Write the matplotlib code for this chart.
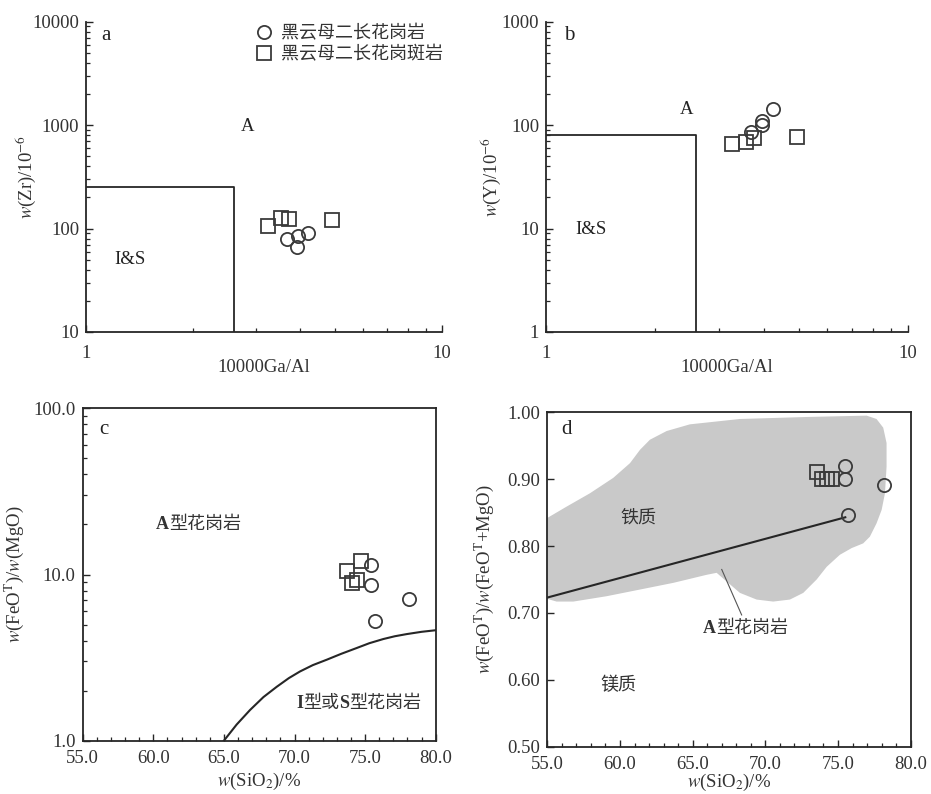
import matplotlib
matplotlib.use('Agg')
import matplotlib.pyplot as plt
from matplotlib.ticker import LogLocator, FixedLocator, MultipleLocator, NullFormatter

plt.rcParams['font.family'] = ['Liberation Serif', 'Noto Sans CJK SC']
plt.rcParams['mathtext.fontset'] = 'stix'
plt.rcParams['axes.unicode_minus'] = False

# ---------------- data ----------------
legend_labels = ['黑云母二长花岗岩', '黑云母二长花岗斑岩']

# panel a : 10000Ga/Al vs Zr
gaal_bt_a = [3.67, 3.93, 3.92, 4.20]
zr_bt = [80, 84, 66, 91]
gaal_por_a = [3.24, 3.53, 3.72, 4.90]
zr_por = [106, 127, 123, 122]
zr_box_x = [1, 2.6, 2.6]
zr_box_y = [250, 250, 10]

# panel b : 10000Ga/Al vs Y
gaal_bt_b = [3.68, 3.95, 3.95, 4.24]
y_bt = [86.5, 100, 109, 142]
gaal_por_b = [3.26, 3.57, 3.75, 4.94]
y_por = [65.5, 69, 75.7, 76.6]
y_box_x = [1, 2.6, 2.6]
y_box_y = [80, 80, 1]

# panel c : SiO2 vs FeOT/MgO
sio2_bt_c = [75.42, 75.42, 78.09, 75.72]
femg_bt = [11.4, 8.59, 7.11, 5.26]
sio2_por_c = [73.70, 74.71, 74.40, 74.05]
femg_por = [10.5, 12.1, 9.29, 8.87]
curve_sio2 = [65.0, 65.9, 66.85, 67.8, 68.74, 69.6, 70.39, 71.3, 72.28, 73.3, 74.40, 75.3, 76.29, 77.1, 77.95, 79.0, 80.0]
curve_ratio = [1.0, 1.25, 1.53, 1.83, 2.11, 2.38, 2.61, 2.85, 3.07, 3.33, 3.61, 3.86, 4.09, 4.25, 4.38, 4.52, 4.62]

# panel d : SiO2 vs FeOT/(FeOT+MgO)
sio2_bt_d = [75.47, 75.47, 78.18, 75.70]
fenum_bt = [0.919, 0.900, 0.892, 0.846]
sio2_por_d = [73.57, 73.87, 74.26, 74.56]
fenum_por = [0.910, 0.900, 0.900, 0.900]
ferroan_sio2 = [55.0, 75.5]
ferroan_ratio = [0.723, 0.843]
field_sio2 = [55.0, 56.33, 57.94, 59.54, 60.69, 61.38, 62.06, 63.21, 64.81, 68.25, 72.84,
              76.97, 77.65, 78.11, 78.34, 78.34, 78.23, 78.0, 77.65, 77.19, 76.73, 75.94,
              75.13, 74.22, 73.53, 72.61, 71.69, 70.54, 69.40, 68.25, 67.34, 66.65, 65.96,
              63.67, 61.38, 59.08, 56.79, 55.64, 55.0]
field_ratio = [0.842, 0.859, 0.879, 0.902, 0.924, 0.944, 0.959, 0.972, 0.982, 0.990, 0.993,
               0.995, 0.990, 0.977, 0.954, 0.919, 0.879, 0.854, 0.834, 0.814, 0.804, 0.797,
               0.787, 0.769, 0.750, 0.730, 0.720, 0.717, 0.720, 0.730, 0.747, 0.760, 0.757,
               0.745, 0.735, 0.725, 0.717, 0.717, 0.721]
pointer_sio2 = [67.0, 68.37]
pointer_ratio = [0.765, 0.697]

# ---------------- figure ----------------
W, H = 931, 794
fig = plt.figure(figsize=(W / 100, H / 100), dpi=100)

def ax_px(l, t, r, b):
    return fig.add_axes([l / W, 1 - b / H, (r - l) / W, (b - t) / H])

ax_a = ax_px(86, 21.7, 442, 332)
ax_b = ax_px(546, 21.7, 907.7, 332)
ax_c = ax_px(82.7, 408.3, 435.7, 740.7)
ax_d = ax_px(547.3, 412.3, 910.7, 746.7)

LC = '#262626'
MC = '#3a3a3a'
TC = '#333333'
FS = 13.5
CFS = 13
mk = dict(linestyle='none', mfc='none', mec=MC, mew=1.3, ms=9.5)


def style_ticks(ax):
    ax.tick_params(which='both', direction='in', colors=LC, labelcolor=TC,
                   labelsize=FS, top=False, right=False)
    ax.tick_params(which='major', length=5, width=1.0, pad=5)
    ax.tick_params(which='minor', length=3, width=0.9)
    for s in ax.spines.values():
        s.set_color(LC)
        s.set_linewidth(1.3)


def rich_text(ax, x, y, pieces, fs=CFS, z=5):
    """pieces: list of (string, weight); drawn left to right starting at (x, y)."""
    s, w = pieces[0]
    t = ax.text(x, y, s, fontsize=fs, fontweight=w, color=TC, ha='left', va='center', zorder=z)
    for s, w in pieces[1:]:
        t = ax.annotate(s, xy=(1, 0), xycoords=t, fontsize=fs, fontweight=w, color=TC,
                        ha='left', va='bottom', zorder=z)
    return t


# panel a / b
for ax, xb, yb, ylim, xs_bt, ys_bt, xs_p, ys_p, ylab, ylx, letter, Apos, ISpos, lpos in [
    (ax_a, zr_box_x, zr_box_y, (10, 10000), gaal_bt_a, zr_bt, gaal_por_a, zr_por,
     r'$w$(Zr)/10$^{-6}$', -0.135, 'a', (2.84, 977), (1.33, 50.4), (1.14, 7400)),
    (ax_b, y_box_x, y_box_y, (1, 1000), gaal_bt_b, y_bt, gaal_por_b, y_por,
     r'$w$(Y)/10$^{-6}$', -0.118, 'b', (2.44, 142), (1.33, 9.8), (1.16, 741)),
]:
    ax.set_xscale('log')
    ax.set_yscale('log')
    ax.set_xlim(1, 10)
    ax.set_ylim(*ylim)
    ax.spines['top'].set_visible(False)
    ax.spines['right'].set_visible(False)
    ax.plot(xb, yb, color=LC, lw=1.3)
    ax.plot(xs_bt, ys_bt, marker='o', **mk)
    ax.plot(xs_p, ys_p, marker='s', **mk)
    ax.xaxis.set_major_locator(LogLocator(base=10, numticks=10))
    ax.yaxis.set_major_locator(LogLocator(base=10, numticks=10))
    ax.xaxis.set_minor_locator(LogLocator(base=10, subs=range(2, 10), numticks=10))
    ax.yaxis.set_minor_locator(LogLocator(base=10, subs=range(2, 10), numticks=10))
    ax.xaxis.set_minor_formatter(NullFormatter())
    ax.yaxis.set_minor_formatter(NullFormatter())
    ax.xaxis.set_major_formatter(plt.FuncFormatter(lambda v, p: '%d' % round(v)))
    ax.yaxis.set_major_formatter(plt.FuncFormatter(lambda v, p: '%d' % round(v)))
    style_ticks(ax)
    ax.tick_params(axis='x', which='major', pad=9)
    ax.set_xlabel('10000Ga/Al', fontsize=FS, color=TC, va='top')
    ax.xaxis.set_label_coords(0.5, -0.088)
    ax.set_ylabel(ylab, fontsize=FS, color=TC)
    ax.yaxis.set_label_coords(ylx, 0.5)
    ax.text(*lpos, letter, fontsize=15, color='#222222', ha='center', va='center')
    ax.text(*Apos, 'A', fontsize=FS, color='#222222', ha='center', va='center')
    ax.text(*ISpos, 'I&S', fontsize=FS, color='#222222', ha='center', va='center')

# legend in panel a
h1, = ax_a.plot([], [], marker='o', **mk)
h2, = ax_a.plot([], [], marker='s', **mk)
ax_a.legend([h1, h2], legend_labels, loc='upper left',
            bbox_to_anchor=((256 - 86) / 356, (332 - 25.5) / 310.3),
            frameon=False, fontsize=13, handlelength=0.9, handletextpad=0.5,
            borderpad=0, borderaxespad=0, labelspacing=0.2,
            labelcolor=TC)

# panel c
ax_c.set_yscale('log')
ax_c.set_xlim(55, 80)
ax_c.set_ylim(1, 100)
ax_c.plot(curve_sio2, curve_ratio, color=LC, lw=1.5)
ax_c.plot(sio2_por_c, femg_por, marker='s', **mk)
ax_c.plot(sio2_bt_c, femg_bt, marker='o', **mk)
ax_c.xaxis.set_major_locator(MultipleLocator(5))
ax_c.xaxis.set_minor_locator(MultipleLocator(1))
ax_c.xaxis.set_major_formatter(plt.FuncFormatter(lambda v, p: '%.1f' % v))
ax_c.yaxis.set_major_locator(FixedLocator([1, 10, 100]))
ax_c.yaxis.set_minor_locator(LogLocator(base=10, subs=range(2, 10), numticks=10))
ax_c.yaxis.set_minor_formatter(NullFormatter())
ax_c.yaxis.set_major_formatter(plt.FuncFormatter(lambda v, p: '%.1f' % v))
style_ticks(ax_c)
ax_c.tick_params(axis='x', which='major', pad=7)
ax_c.set_xlabel(r'$w$(SiO$_2$)/%', fontsize=FS, color=TC, va='top')
ax_c.xaxis.set_label_coords(0.5, -0.092)
ax_c.set_ylabel(r'$w$(FeO$^{\rm T}$)/$w$(MgO)', fontsize=FS, color=TC)
ax_c.yaxis.set_label_coords(-0.16, 0.5)
ax_c.text(56.5, 75, 'c', fontsize=15, color='#222222', ha='center', va='center')
rich_text(ax_c, 60.2, 19.9, [('A', 'bold'), ('型花岗岩', 'normal')])
rich_text(ax_c, 70.1, 1.68, [('I', 'bold'), ('型或', 'normal'), ('S', 'bold'), ('型花岗岩', 'normal')])

# panel d
ax_d.set_xlim(55, 80)
ax_d.set_ylim(0.5, 1.0)
ax_d.fill(field_sio2, field_ratio, color='#c9c9c9', lw=0, zorder=1)
ax_d.plot(ferroan_sio2, ferroan_ratio, color=LC, lw=1.5, zorder=3)
ax_d.plot(pointer_sio2, pointer_ratio, color='#555555', lw=0.8, zorder=3)
ax_d.plot(sio2_por_d, fenum_por, marker='s', zorder=4, **mk)
ax_d.plot(sio2_bt_d, fenum_bt, marker='o', zorder=4, **mk)
ax_d.xaxis.set_major_locator(MultipleLocator(5))
ax_d.xaxis.set_minor_locator(MultipleLocator(1))
ax_d.xaxis.set_major_formatter(plt.FuncFormatter(lambda v, p: '%.1f' % v))
ax_d.yaxis.set_major_locator(MultipleLocator(0.1))
ax_d.yaxis.set_major_formatter(plt.FuncFormatter(lambda v, p: '%.2f' % v))
style_ticks(ax_d)
ax_d.tick_params(axis='x', which='major', pad=7)
ax_d.set_xlabel(r'$w$(SiO$_2$)/%', fontsize=FS, color=TC, va='top')
ax_d.xaxis.set_label_coords(0.5, -0.075)
ax_d.set_ylabel(r'$w$(FeO$^{\rm T}$)/$w$(FeO$^{\rm T}$+MgO)', fontsize=FS, color=TC)
ax_d.yaxis.set_label_coords(-0.14, 0.5)
ax_d.text(56.33, 0.974, 'd', fontsize=15, color='#222222', ha='center', va='center', zorder=5)
ax_d.text(61.3, 0.842, '铁质', fontsize=CFS, color=TC, ha='center', va='center', zorder=5)
rich_text(ax_d, 65.7, 0.677, [('A', 'bold'), ('型花岗岩', 'normal')])
ax_d.text(59.9, 0.592, '镁质', fontsize=CFS, color=TC, ha='center', va='center', zorder=5)

fig.savefig('out.png', dpi=100)
